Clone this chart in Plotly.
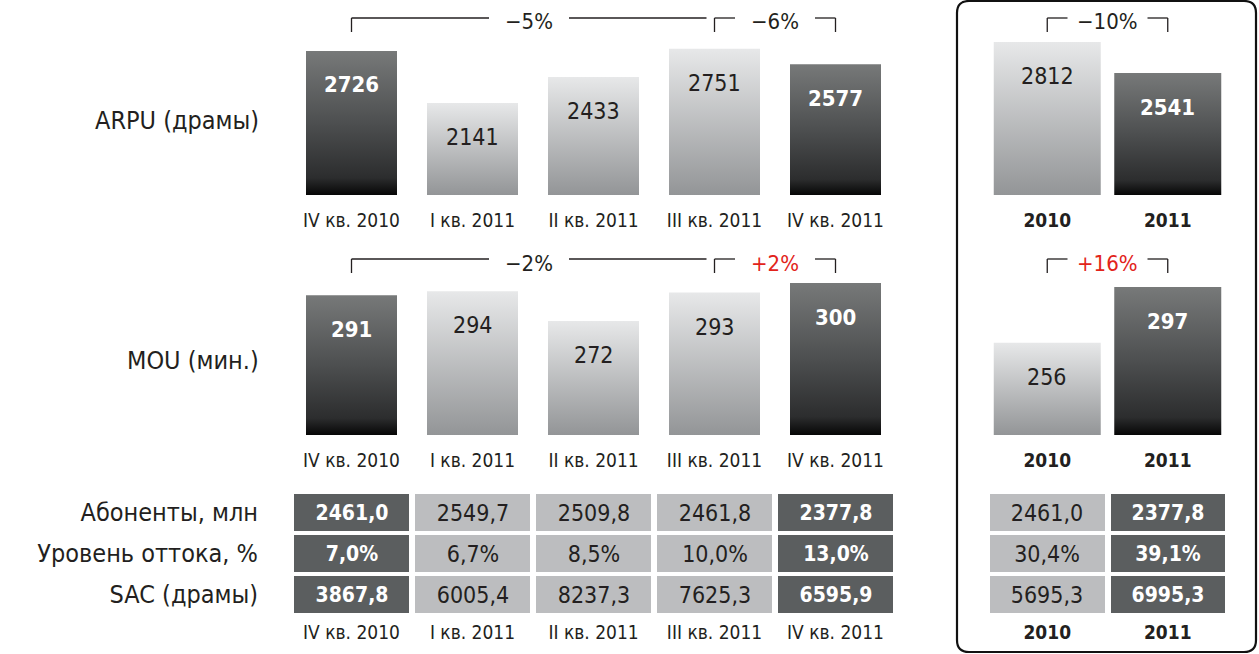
import plotly.graph_objects as go

# ---------------- data ----------------
quarters = ["IV кв. 2010", "I кв. 2011", "II кв. 2011", "III кв. 2011", "IV кв. 2011"]
years = ["2010", "2011"]

arpu_q = [2726, 2141, 2433, 2751, 2577]
arpu_y = [2812, 2541]
mou_q = [291, 294, 272, 293, 300]
mou_y = [256, 297]

row_labels = ["Абоненты, млн", "Уровень оттока, %", "SAC (драмы)"]
subs_q = [2461.0, 2549.7, 2509.8, 2461.8, 2377.8]
churn_q = [7.0, 6.7, 8.5, 10.0, 13.0]
sac_q = [3867.8, 6005.4, 8237.3, 7625.3, 6595.9]
subs_y = [2461.0, 2377.8]
churn_y = [30.4, 39.1]
sac_y = [5695.3, 6995.3]

arpu_changes = ["−5%", "−6%"]
arpu_year_change = "−10%"
mou_changes = ["−2%", "+2%"]
mou_year_change = "+16%"

# ---------------- style ----------------
W, H = 1259, 654
FONT = "DejaVu Sans Condensed, Liberation Sans Narrow, Roboto, sans-serif"
TXT = "#231f20"
RED = "#e2231a"
DARK_CELL = "#5b5e5f"
LIGHT_CELL = "#bcbdbf"
DARK_GRAD = [[0, "#060606"], [0.12, "#2c2d2e"], [0.5, "#4d4f50"], [1, "#777979"]]
LIGHT_GRAD = [[0, "#939597"], [1, "#e7e8e9"]]
dark_q = {0, 4}   # highlighted quarter columns
dark_y = {1}      # highlighted year column


def px(x):
    return x / W


def py(y):
    return 1 - y / H


fig = go.Figure()

QX = (291, 896)
YX = (987, 1228)
ARPU_Y = (195, 40)
MOU_Y = (435, 275)
TAB_Y = (615, 492)

axis_common = dict(showgrid=False, zeroline=False, showline=False)


def xax(dom, n, labels, bold=False, ticklen=8):
    return dict(domain=[px(dom[0]), px(dom[1])], range=[-0.5, n - 0.5],
                tickmode="array", tickvals=list(range(n)),
                ticktext=[f"<b>{t}</b>" if bold else t for t in labels],
                ticks="outside", ticklen=ticklen, tickcolor="rgba(0,0,0,0)",
                tickfont=dict(family=FONT, size=19, color=TXT), **axis_common)


def yax(dom, rng, **kw):
    return dict(domain=[py(dom[0]), py(dom[1])], range=rng, visible=False, **axis_common, **kw)


arpu_q_rng = [1106, 2849]
arpu_y_rng = [1475, 2830]
mou_rng = [188, 305.9]

layout_axes = {
    "xaxis": xax(QX, 5, quarters), "yaxis": yax(ARPU_Y, arpu_q_rng),
    "xaxis2": xax(YX, 2, years, bold=True), "yaxis2": yax(ARPU_Y, arpu_y_rng),
    "xaxis3": xax(QX, 5, quarters), "yaxis3": yax(MOU_Y, mou_rng),
    "xaxis4": xax(YX, 2, years, bold=True), "yaxis4": yax(MOU_Y, mou_rng),
    "xaxis5": xax(QX, 5, quarters, ticklen=0), "yaxis5": dict(
        domain=[py(TAB_Y[0]), py(TAB_Y[1])], range=[2.5, -0.5], tickmode="array",
        tickvals=[0, 1, 2], ticktext=row_labels, ticks="outside", ticklen=27,
        tickcolor="rgba(0,0,0,0)", tickfont=dict(family=FONT, size=25, color=TXT), **axis_common),
    "xaxis6": xax(YX, 2, years, bold=True, ticklen=0), "yaxis6": yax(TAB_Y, [2.5, -0.5]),
}
for i in range(1, 7):
    s = "" if i == 1 else str(i)
    layout_axes["xaxis" + s]["anchor"] = "y" + s
    layout_axes["yaxis" + s]["anchor"] = "x" + s


# ---------------- bars (gradient-filled polygons on data axes) ----------------
def add_bars(values, base, hw, xa, ya, dark_set):
    for i, v in enumerate(values):
        dark = i in dark_set
        fig.add_trace(go.Scatter(
            x=[i - hw, i + hw, i + hw, i - hw, i - hw], y=[base, base, v, v, base],
            xaxis=xa, yaxis=ya, mode="lines", line=dict(width=0), fill="toself",
            fillcolor="#4d4f50" if dark else "#c4c5c7",
            fillgradient=dict(type="vertical", colorscale=DARK_GRAD if dark else LIGHT_GRAD),
            hoverinfo="skip", showlegend=False))
        fig.add_annotation(x=i, y=v, xref=xa, yref=ya, yshift=-34, yanchor="middle",
                           showarrow=False,
                           text=f"<b>{v}</b>" if dark else str(v),
                           font=dict(family=FONT, size=22 if dark else 23,
                                     color="white" if dark else TXT))


add_bars(arpu_q, arpu_q_rng[0], 45.5 / 121, "x", "y", dark_q)
add_bars(arpu_y, arpu_y_rng[0], 53.5 / 120.5, "x2", "y2", dark_y)
add_bars(mou_q, mou_rng[0], 45.5 / 121, "x3", "y3", dark_q)
add_bars(mou_y, mou_rng[0], 53.5 / 120.5, "x4", "y4", dark_y)


# ---------------- table (heatmaps) ----------------
def fmt(v):
    return f"{v:.1f}".replace(".", ",")


def add_table(cols, xa, ya, dark_set):
    n = len(cols[0])
    for dark in (False, True):
        z, txt = [], []
        for r in cols:
            z.append([(1 if dark else 0) if ((j in dark_set) == dark) else None for j in range(n)])
            txt.append([r[j] if ((j in dark_set) == dark) else "" for j in range(n)])
        fig.add_trace(go.Heatmap(
            z=z, x=list(range(n)), y=[0, 1, 2], text=txt, texttemplate="%{text}",
            textfont=dict(family=FONT, size=21 if dark else 23, color="white" if dark else TXT,
                          weight="bold" if dark else "normal"),
            colorscale=[[0, LIGHT_CELL], [1, DARK_CELL]], zmin=0, zmax=1,
            xgap=6, ygap=4, showscale=False, hoverinfo="skip", xaxis=xa, yaxis=ya))


tab_q = [[fmt(v) for v in subs_q], [fmt(v) + "%" for v in churn_q], [fmt(v) for v in sac_q]]
tab_y = [[fmt(v) for v in subs_y], [fmt(v) + "%" for v in churn_y], [fmt(v) for v in sac_y]]
add_table(tab_q, "x5", "y5", dark_q)
add_table(tab_y, "x6", "y6", dark_y)

# ---------------- brackets ----------------
shapes = []
annotations = []


def bracket(xref, a, b, unit_px, y_line, y_tick, text, color, tick_left=True, tick_right=True):
    mid = (a + b) / 2
    gap = 40 / unit_px
    ln = dict(color=TXT, width=1.3)
    shapes.append(dict(type="line", xref=xref, yref="paper", x0=a, x1=mid - gap,
                       y0=py(y_line), y1=py(y_line), line=ln))
    shapes.append(dict(type="line", xref=xref, yref="paper", x0=mid + gap, x1=b,
                       y0=py(y_line), y1=py(y_line), line=ln))
    if tick_left:
        shapes.append(dict(type="line", xref=xref, yref="paper", x0=a, x1=a,
                           y0=py(y_line), y1=py(y_tick), line=ln))
    if tick_right:
        shapes.append(dict(type="line", xref=xref, yref="paper", x0=b, x1=b,
                           y0=py(y_line), y1=py(y_tick), line=ln))
    annotations.append(dict(x=mid, y=py(y_line + 4), xref=xref, yref="paper", text=text,
                            showarrow=False, yanchor="middle",
                            font=dict(family=FONT, size=22, color=color)))


def col(t):
    return RED if t.startswith("+") else TXT


for (xr, yl, yt, ch, ych) in [("x", 18, 32, arpu_changes, arpu_year_change),
                              ("x3", 259, 273, mou_changes, mou_year_change)]:
    bracket(xr, 0, 3 - 8 / 121, 121, yl, yt, ch[0], col(ch[0]), tick_right=False)
    bracket(xr, 3, 4, 121, yl, yt, ch[1], col(ch[1]))
    xr_y = "x2" if xr == "x" else "x4"
    bracket(xr_y, 0, 1, 120.5, yl, yt, ych, col(ych))

# row labels
for label, yc in [("ARPU (драмы)", 120), ("MOU (мин.)", 360)]:
    annotations.append(dict(x=px(261), y=py(yc), xref="paper", yref="paper", text=label,
                            xanchor="right", yanchor="middle", showarrow=False,
                            font=dict(family=FONT, size=25, color=TXT)))

# rounded box around the annual block
x0, x1, y0, y1, r = 957, 1256, 1, 652, 12
path = (f"M {px(x0)},{py(y0 + r)} Q {px(x0)},{py(y0)} {px(x0 + r)},{py(y0)} "
        f"L {px(x1 - r)},{py(y0)} Q {px(x1)},{py(y0)} {px(x1)},{py(y0 + r)} "
        f"L {px(x1)},{py(y1 - r)} Q {px(x1)},{py(y1)} {px(x1 - r)},{py(y1)} "
        f"L {px(x0 + r)},{py(y1)} Q {px(x0)},{py(y1)} {px(x0)},{py(y1 - r)} Z")
shapes.append(dict(type="path", xref="paper", yref="paper", path=path,
                   line=dict(color="#111111", width=2.2)))

fig.update_layout(width=W, height=H, margin=dict(l=0, r=0, t=0, b=0),
                  paper_bgcolor="white", plot_bgcolor="white",
                  shapes=shapes, annotations=list(fig.layout.annotations) + annotations,
                  showlegend=False, **layout_axes)

fig.write_html("out.html", config={"displayModeBar": False},
               post_script="document.body.style.margin='0';document.body.style.overflow='hidden';")
